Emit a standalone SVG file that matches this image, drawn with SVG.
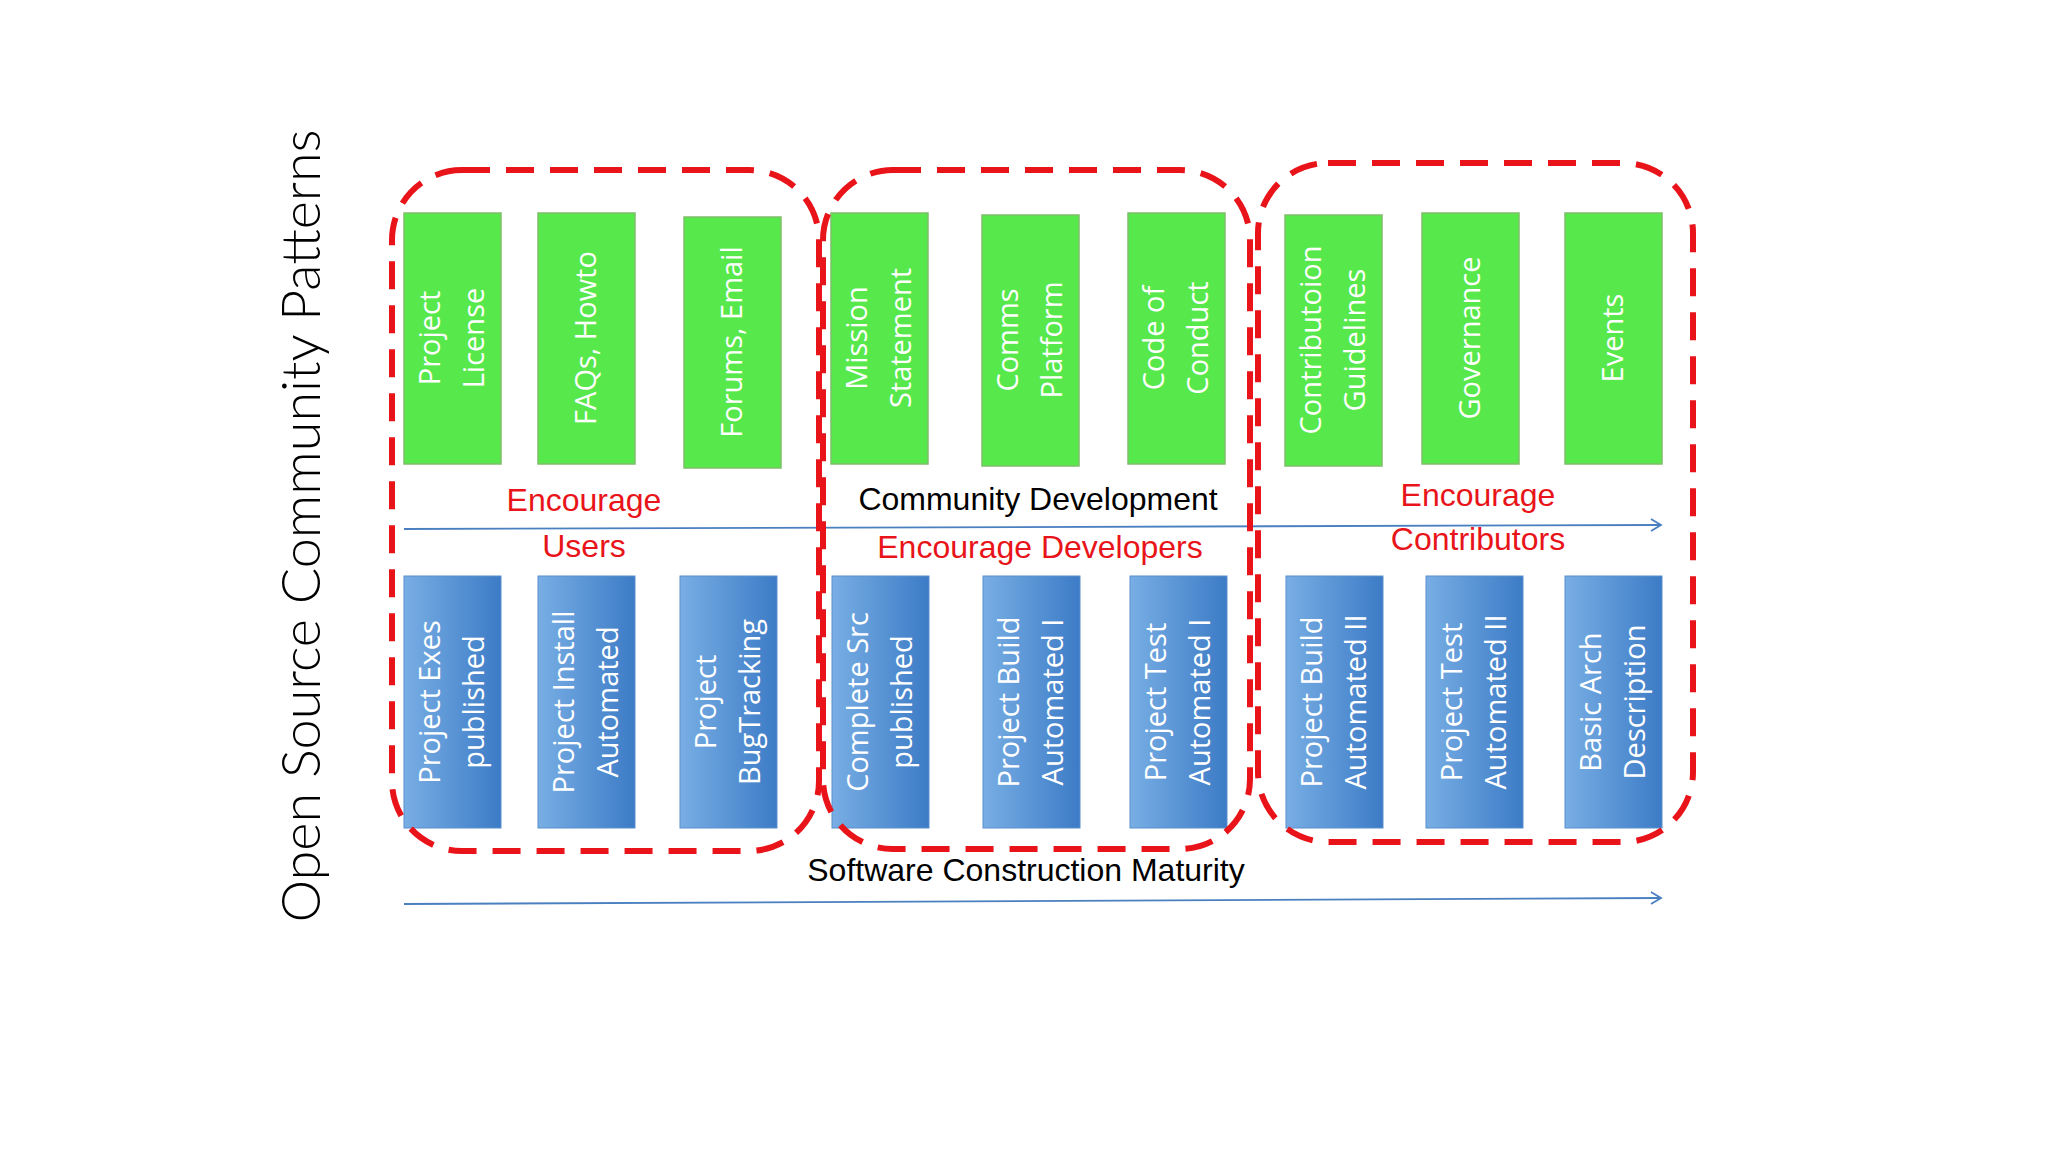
<svg xmlns="http://www.w3.org/2000/svg" width="2048" height="1152" viewBox="0 0 2048 1152">
<defs>
<linearGradient id="bg" x1="0" y1="0" x2="1" y2="0"><stop offset="0" stop-color="#78AEE4"/><stop offset="1" stop-color="#3C7BC6"/></linearGradient>
<marker id="ah" markerWidth="14" markerHeight="14" refX="12" refY="7" orient="auto" markerUnits="userSpaceOnUse"><path d="M2,1 L12,7 L2,13" fill="none" stroke="#4A7FC0" stroke-width="1.8"/></marker>
</defs>
<style>
.g{fill:#57E84B;stroke:#7FBF6A;stroke-width:1.5}
.b{fill:url(#bg);stroke:#5A8FCC;stroke-width:1}
.t{font-family:"Open Sans","Noto Sans",sans-serif;font-size:29px;fill:#fff;text-anchor:middle}
.r{font-family:"Liberation Sans Narrow","Liberation Sans",sans-serif;font-size:32px;fill:#E8141A;text-anchor:middle}
.k{font-family:"Liberation Sans Narrow","Liberation Sans",sans-serif;font-size:32px;fill:#000;text-anchor:middle}
.d{fill:none;stroke:#E8141A;stroke-width:6;stroke-dasharray:28 16}
.a{stroke:#4A7FC0;stroke-width:1.8;fill:none}
</style>
<rect width="2048" height="1152" fill="#fff"/>
<text transform="translate(320,526) rotate(-90)" text-anchor="middle" font-family="Lato,'Open Sans',sans-serif" font-weight="300" font-size="54" fill="#000">Open Source Community Patterns</text>
<g id="connectors">
<path class="a" d="M404,529 L1661,525" marker-end="url(#ah)"/>
<path class="a" d="M404,904 L1661,898" marker-end="url(#ah)"/>
</g>
<g id="g1"><rect class="g" x="404" y="213" width="97" height="251"/><text class="t" transform="translate(452,338) rotate(-90)"><tspan x="0" y="-12">Project</tspan><tspan x="0" y="32">License</tspan></text></g>
<g id="g2"><rect class="g" x="538" y="213" width="97" height="251"/><text class="t" transform="translate(586,338) rotate(-90)"><tspan x="0" y="10">FAQs, Howto</tspan></text></g>
<g id="g3"><rect class="g" x="684" y="217" width="97" height="251"/><text class="t" transform="translate(732,342) rotate(-90)"><tspan x="0" y="10">Forums, Email</tspan></text></g>
<g id="g4"><rect class="g" x="831" y="213" width="97" height="251"/><text class="t" transform="translate(879,338) rotate(-90)"><tspan x="0" y="-12">Mission</tspan><tspan x="0" y="32">Statement</tspan></text></g>
<g id="g5"><rect class="g" x="982" y="215" width="97" height="251"/><text class="t" transform="translate(1030,340) rotate(-90)"><tspan x="0" y="-12">Comms</tspan><tspan x="0" y="32">Platform</tspan></text></g>
<g id="g6"><rect class="g" x="1128" y="213" width="97" height="251"/><text class="t" transform="translate(1176,338) rotate(-90)"><tspan x="0" y="-12">Code of</tspan><tspan x="0" y="32">Conduct</tspan></text></g>
<g id="g7"><rect class="g" x="1285" y="215" width="97" height="251"/><text class="t" transform="translate(1333,340) rotate(-90)"><tspan x="0" y="-12">Contributoion</tspan><tspan x="0" y="32">Guidelines</tspan></text></g>
<g id="g8"><rect class="g" x="1422" y="213" width="97" height="251"/><text class="t" transform="translate(1470,338) rotate(-90)"><tspan x="0" y="10">Governance</tspan></text></g>
<g id="g9"><rect class="g" x="1565" y="213" width="97" height="251"/><text class="t" transform="translate(1613,338) rotate(-90)"><tspan x="0" y="10">Events</tspan></text></g>
<g id="b1"><rect class="b" x="404" y="576" width="97" height="252"/><text class="t" transform="translate(452,702) rotate(-90)"><tspan x="0" y="-12">Project Exes</tspan><tspan x="0" y="32">published</tspan></text></g>
<g id="b2"><rect class="b" x="538" y="576" width="97" height="252"/><text class="t" transform="translate(586,702) rotate(-90)"><tspan x="0" y="-12">Project Install</tspan><tspan x="0" y="32">Automated</tspan></text></g>
<g id="b3"><rect class="b" x="680" y="576" width="97" height="252"/><text class="t" transform="translate(728,702) rotate(-90)"><tspan x="0" y="-12">Project</tspan><tspan x="0" y="32">BugTracking</tspan></text></g>
<g id="b4"><rect class="b" x="832" y="576" width="97" height="252"/><text class="t" transform="translate(880,702) rotate(-90)"><tspan x="0" y="-12">Complete Src</tspan><tspan x="0" y="32">published</tspan></text></g>
<g id="b5"><rect class="b" x="983" y="576" width="97" height="252"/><text class="t" transform="translate(1031,702) rotate(-90)"><tspan x="0" y="-12">Project Build</tspan><tspan x="0" y="32">Automated I</tspan></text></g>
<g id="b6"><rect class="b" x="1130" y="576" width="97" height="252"/><text class="t" transform="translate(1178,702) rotate(-90)"><tspan x="0" y="-12">Project Test</tspan><tspan x="0" y="32">Automated I</tspan></text></g>
<g id="b7"><rect class="b" x="1286" y="576" width="97" height="252"/><text class="t" transform="translate(1334,702) rotate(-90)"><tspan x="0" y="-12">Project Build</tspan><tspan x="0" y="32">Automated II</tspan></text></g>
<g id="b8"><rect class="b" x="1426" y="576" width="97" height="252"/><text class="t" transform="translate(1474,702) rotate(-90)"><tspan x="0" y="-12">Project Test</tspan><tspan x="0" y="32">Automated II</tspan></text></g>
<g id="b9"><rect class="b" x="1565" y="576" width="97" height="252"/><text class="t" transform="translate(1613,702) rotate(-90)"><tspan x="0" y="-12">Basic Arch</tspan><tspan x="0" y="32">Description</tspan></text></g>
<g id="region1"><rect class="d" x="392" y="170" width="427" height="681" rx="70"/><text class="r" x="584" y="511">Encourage</text><text class="r" x="584" y="557">Users</text></g>
<g id="region2"><rect class="d" x="823" y="170" width="427" height="679" rx="70"/><text class="k" x="1038" y="510">Community Development</text><text class="r" x="1040" y="558">Encourage Developers</text></g>
<g id="region3"><rect class="d" x="1258" y="163" width="435" height="679" rx="70"/><text class="r" x="1478" y="506">Encourage</text><text class="r" x="1478" y="550">Contributors</text></g>
<text class="k" x="1026" y="881">Software Construction Maturity</text>
</svg>
